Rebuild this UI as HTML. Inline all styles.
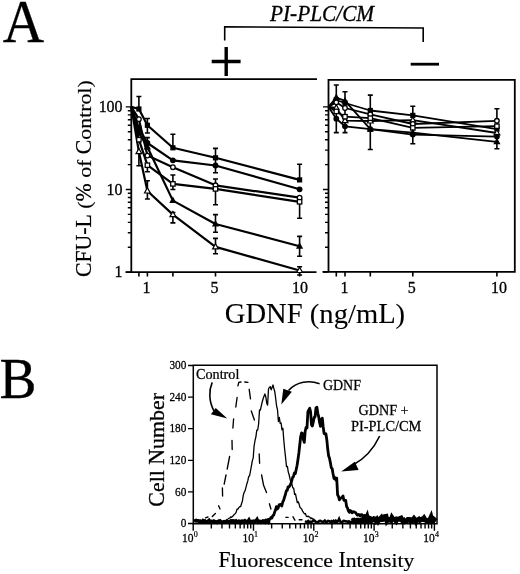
<!DOCTYPE html>
<html><head><meta charset="utf-8"><style>
html,body{margin:0;padding:0;background:#fff;}
body{width:520px;height:574px;overflow:hidden;font-family:"Liberation Serif",serif;}
svg{display:block;will-change:transform;}
</style></head><body>
<svg width="520" height="574" viewBox="0 0 520 574">
<rect width="520" height="574" fill="#fff"/>
<text transform="translate(2.80 41.80) scale(0.97 1.03)" font-family="Liberation Serif, serif" font-size="59" stroke="#000" stroke-width="0.3">A</text>
<text transform="translate(-0.40 397.60) scale(0.955 1.0)" font-family="Liberation Serif, serif" font-size="58" stroke="#000" stroke-width="0.3">B</text>
<text transform="translate(270.00 21.20) scale(1.0 1.04)" font-family="Liberation Serif, serif" font-size="21.3" font-style="italic" stroke="#000" stroke-width="0.3">PI-PLC/CM</text>
<path d="M224.7 40.5 V26.8 L423.2 28 V42" fill="none" stroke="#000" stroke-width="1.6"/>
<path d="M211.7 61.5 H240.6 M226.2 47 V76" stroke="#000" stroke-width="3.4" fill="none"/>
<path d="M410.7 64.2 H439" stroke="#000" stroke-width="2.8" fill="none"/>
<path d="M131.3 272 V79.2 H317" fill="none" stroke="#000" stroke-width="1.8"/>
<path d="M125.6 272.1 H316.5" fill="none" stroke="#000" stroke-width="1.8"/>
<path d="M328.5 79.9 H514.8 V271.9 H322.5 M328.5 79 V272.8" fill="none" stroke="#000" stroke-width="1.8"/>
<path d="M125.80 272.10 H131.3 M127.80 247.23 H131.3 M127.80 232.69 H131.3 M127.80 222.37 H131.3 M127.80 214.37 H131.3 M127.80 207.82 H131.3 M127.80 202.29 H131.3 M127.80 197.50 H131.3 M127.80 193.28 H131.3 M125.80 189.50 H131.3 M127.80 164.63 H131.3 M127.80 150.09 H131.3 M127.80 139.77 H131.3 M127.80 131.77 H131.3 M127.80 125.22 H131.3 M127.80 119.69 H131.3 M127.80 114.90 H131.3 M127.80 110.68 H131.3 M125.80 106.90 H131.3" stroke="#000" stroke-width="1.4" fill="none"/>
<path d="M323.00 272.10 H328.5 M325.00 247.23 H328.5 M325.00 232.69 H328.5 M325.00 222.37 H328.5 M325.00 214.37 H328.5 M325.00 207.82 H328.5 M325.00 202.29 H328.5 M325.00 197.50 H328.5 M325.00 193.28 H328.5 M323.00 189.50 H328.5 M325.00 164.63 H328.5 M325.00 150.09 H328.5 M325.00 139.77 H328.5 M325.00 131.77 H328.5 M325.00 125.22 H328.5 M325.00 119.69 H328.5 M325.00 114.90 H328.5 M325.00 110.68 H328.5 M323.00 106.90 H328.5" stroke="#000" stroke-width="1.4" fill="none"/>
<path d="M138.90 272 V276.5 M147.40 272 V276.5 M172.90 272 V276.5 M215.50 272 V276.5 M299.60 272 V276.5" stroke="#000" stroke-width="1.6" fill="none"/>
<path d="M336.30 272 V276.5 M345.00 272 V276.5 M370.30 272 V276.5 M412.80 272 V276.5 M496.90 272 V276.5" stroke="#000" stroke-width="1.6" fill="none"/>
<text transform="translate(122.60 111.90) scale(1.0 1.06)" font-family="Liberation Serif, serif" font-size="16" text-anchor="end" stroke="#000" stroke-width="0.3">100</text>
<text transform="translate(122.60 194.50) scale(1.0 1.06)" font-family="Liberation Serif, serif" font-size="16" text-anchor="end" stroke="#000" stroke-width="0.3">10</text>
<text transform="translate(122.60 277.10) scale(1.0 1.06)" font-family="Liberation Serif, serif" font-size="16" text-anchor="end" stroke="#000" stroke-width="0.3">1</text>
<text transform="translate(146.50 292.60) scale(1.0 1.04)" font-family="Liberation Serif, serif" font-size="16" text-anchor="middle" stroke="#000" stroke-width="0.3">1</text>
<text transform="translate(214.40 292.60) scale(1.0 1.04)" font-family="Liberation Serif, serif" font-size="16" text-anchor="middle" stroke="#000" stroke-width="0.3">5</text>
<text transform="translate(300.00 292.60) scale(1.0 1.04)" font-family="Liberation Serif, serif" font-size="16" text-anchor="middle" stroke="#000" stroke-width="0.3">10</text>
<text transform="translate(344.60 292.60) scale(1.0 1.04)" font-family="Liberation Serif, serif" font-size="16" text-anchor="middle" stroke="#000" stroke-width="0.3">1</text>
<text transform="translate(411.70 292.60) scale(1.0 1.04)" font-family="Liberation Serif, serif" font-size="16" text-anchor="middle" stroke="#000" stroke-width="0.3">5</text>
<text transform="translate(499.10 292.60) scale(1.0 1.04)" font-family="Liberation Serif, serif" font-size="16" text-anchor="middle" stroke="#000" stroke-width="0.3">10</text>
<text transform="translate(90.60 277.09) rotate(-90) scale(1 1.03)" font-family="Liberation Serif, serif" font-size="21.8" style="font-kerning:none;white-space:pre" stroke="#000" stroke-width="0.2">CFU-L </text>
<text transform="translate(90.60 208.66) rotate(-90) scale(1 0.9)" font-family="Liberation Serif, serif" font-size="21.8" style="font-kerning:none;white-space:pre" stroke="#000" stroke-width="0.2">(</text>
<text transform="translate(90.60 201.40) rotate(-90) scale(1 1.03)" font-family="Liberation Serif, serif" font-size="21.8" style="font-kerning:none;white-space:pre" stroke="#000" stroke-width="0.2">% </text>
<text transform="translate(90.60 177.79) rotate(-90) scale(1 0.9)" font-family="Liberation Serif, serif" font-size="21.8" style="font-kerning:none;white-space:pre" stroke="#000" stroke-width="0.2">of </text>
<text transform="translate(90.60 154.18) rotate(-90) scale(1 1.03)" font-family="Liberation Serif, serif" font-size="21.8" style="font-kerning:none;white-space:pre" stroke="#000" stroke-width="0.2">C</text>
<text transform="translate(90.60 139.64) rotate(-90) scale(1 0.9)" font-family="Liberation Serif, serif" font-size="21.8" style="font-kerning:none;white-space:pre" stroke="#000" stroke-width="0.2">ontrol)</text>
<text transform="translate(224.80 323.00) scale(1 1.04)" font-family="Liberation Serif, serif" font-size="28.6" style="font-kerning:none;white-space:pre" stroke="#000" stroke-width="0.1">GDNF </text>
<text transform="translate(309.82 323.00) scale(1 0.93)" font-family="Liberation Serif, serif" font-size="28.6" style="font-kerning:none;white-space:pre" stroke="#000" stroke-width="0.1">(ng/m</text>
<text transform="translate(378.13 323.00) scale(1 1.04)" font-family="Liberation Serif, serif" font-size="28.6" style="font-kerning:none;white-space:pre" stroke="#000" stroke-width="0.1">L</text>
<text transform="translate(395.60 323.00) scale(1 0.93)" font-family="Liberation Serif, serif" font-size="28.6" style="font-kerning:none;white-space:pre" stroke="#000" stroke-width="0.1">)</text>
<path d="M138.90 96.50 V109.00 M136.40 96.50 H141.40 M147.40 118.50 V133.00 M144.90 118.50 H149.90 M144.90 133.00 H149.90 M172.90 134.30 V147.80 M170.40 134.30 H175.40 M215.50 148.40 V172.80 M213.00 148.40 H218.00 M213.00 172.80 H218.00 M299.60 164.20 V179.90 M297.10 164.20 H302.10 M172.90 175.00 V189.50 M170.40 175.00 H175.40 M170.40 189.50 H175.40 M215.50 179.00 V204.70 M213.00 179.00 H218.00 M213.00 204.70 H218.00 M299.60 201.80 V218.20 M297.10 218.20 H302.10 M215.50 214.60 V232.30 M213.00 214.60 H218.00 M213.00 232.30 H218.00 M299.60 236.40 V256.20 M297.10 236.40 H302.10 M297.10 256.20 H302.10 M138.90 151.70 V165.70 M136.40 165.70 H141.40 M172.90 212.50 V222.90 M170.40 212.50 H175.40 M170.40 222.90 H175.40 M215.50 238.40 V253.70 M213.00 238.40 H218.00 M213.00 253.70 H218.00 M299.60 266.70 V275.00 M297.10 266.70 H302.10 M297.10 275.00 H302.10 M147.40 137.60 V147.00 M144.90 137.60 H149.90 M147.40 180.80 V199.00 M144.90 180.80 H149.90 M144.90 199.00 H149.90 M147.40 165.20 V171.80 M144.90 171.80 H149.90" stroke="#000" stroke-width="1.6" fill="none"/>
<path d="M336.30 85.00 V132.60 M333.80 85.00 H338.80 M333.80 132.60 H338.80 M345.00 91.70 V132.60 M342.50 91.70 H347.50 M342.50 132.60 H347.50 M370.30 95.10 V149.50 M367.80 95.10 H372.80 M367.80 149.50 H372.80 M412.80 106.25 V143.75 M410.30 106.25 H415.30 M410.30 143.75 H415.30 M496.90 108.70 V148.80 M494.40 108.70 H499.40 M494.40 148.80 H499.40" stroke="#000" stroke-width="1.6" fill="none"/>
<polyline points="131.30,106.90 138.90,109.00 147.40,125.30 172.90,147.80 215.50,157.80 299.60,179.90" fill="none" stroke="#000" stroke-width="2.2" stroke-linejoin="round"/>
<polyline points="131.30,106.90 138.90,128.00 147.40,143.00 172.90,160.30 215.50,165.50 299.60,189.30" fill="none" stroke="#000" stroke-width="2.2" stroke-linejoin="round"/>
<polyline points="131.30,106.90 138.90,119.20 147.40,155.60 172.90,167.20 215.50,185.30 299.60,197.70" fill="none" stroke="#000" stroke-width="2.2" stroke-linejoin="round"/>
<polyline points="131.30,106.90 138.90,139.70 147.40,165.20 172.90,183.90 215.50,188.90 299.60,201.80" fill="none" stroke="#000" stroke-width="2.2" stroke-linejoin="round"/>
<polyline points="131.30,106.90 138.90,133.00 147.40,147.00 172.90,200.60 215.50,224.00 299.60,246.20" fill="none" stroke="#000" stroke-width="2.2" stroke-linejoin="round"/>
<polyline points="131.30,106.90 138.90,151.70 147.40,191.00 172.90,214.60 215.50,246.90 299.60,270.50" fill="none" stroke="#000" stroke-width="2.2" stroke-linejoin="round"/>
<rect x="136.30" y="106.40" width="5.2" height="5.2" fill="#000"/>
<rect x="144.80" y="122.70" width="5.2" height="5.2" fill="#000"/>
<rect x="170.30" y="145.20" width="5.2" height="5.2" fill="#000"/>
<rect x="212.90" y="155.20" width="5.2" height="5.2" fill="#000"/>
<rect x="297.00" y="177.30" width="5.2" height="5.2" fill="#000"/>
<circle cx="138.90" cy="128.00" r="2.9" fill="#000"/>
<circle cx="147.40" cy="143.00" r="2.9" fill="#000"/>
<circle cx="172.90" cy="160.30" r="2.9" fill="#000"/>
<circle cx="215.50" cy="165.50" r="2.9" fill="#000"/>
<circle cx="299.60" cy="189.30" r="2.9" fill="#000"/>
<circle cx="138.90" cy="119.20" r="2.3" fill="#fff" stroke="#000" stroke-width="1.3"/>
<circle cx="147.40" cy="155.60" r="2.3" fill="#fff" stroke="#000" stroke-width="1.3"/>
<circle cx="172.90" cy="167.20" r="2.3" fill="#fff" stroke="#000" stroke-width="1.3"/>
<circle cx="215.50" cy="185.30" r="2.3" fill="#fff" stroke="#000" stroke-width="1.3"/>
<circle cx="299.60" cy="197.70" r="2.3" fill="#fff" stroke="#000" stroke-width="1.3"/>
<rect x="136.70" y="137.50" width="4.4" height="4.4" fill="#fff" stroke="#000" stroke-width="1.3"/>
<rect x="145.20" y="163.00" width="4.4" height="4.4" fill="#fff" stroke="#000" stroke-width="1.3"/>
<rect x="170.70" y="181.70" width="4.4" height="4.4" fill="#fff" stroke="#000" stroke-width="1.3"/>
<rect x="213.30" y="186.70" width="4.4" height="4.4" fill="#fff" stroke="#000" stroke-width="1.3"/>
<rect x="297.40" y="199.60" width="4.4" height="4.4" fill="#fff" stroke="#000" stroke-width="1.3"/>
<path d="M138.90 129.00 L142.50 135.50 L135.30 135.50Z" fill="#000"/>
<path d="M147.40 143.00 L151.00 149.50 L143.80 149.50Z" fill="#000"/>
<path d="M172.90 196.60 L176.50 203.10 L169.30 203.10Z" fill="#000"/>
<path d="M215.50 220.00 L219.10 226.50 L211.90 226.50Z" fill="#000"/>
<path d="M299.60 242.20 L303.20 248.70 L296.00 248.70Z" fill="#000"/>
<path d="M138.90 148.50 L141.80 153.70 L136.00 153.70Z" fill="#fff" stroke="#000" stroke-width="1.2"/>
<path d="M147.40 187.80 L150.30 193.00 L144.50 193.00Z" fill="#fff" stroke="#000" stroke-width="1.2"/>
<path d="M172.90 211.40 L175.80 216.60 L170.00 216.60Z" fill="#fff" stroke="#000" stroke-width="1.2"/>
<path d="M215.50 243.70 L218.40 248.90 L212.60 248.90Z" fill="#fff" stroke="#000" stroke-width="1.2"/>
<path d="M299.60 267.30 L302.50 272.50 L296.70 272.50Z" fill="#fff" stroke="#000" stroke-width="1.2"/>
<polyline points="328.50,106.90 336.30,100.00 345.00,103.00 370.30,110.50 412.80,115.40 496.90,129.20" fill="none" stroke="#000" stroke-width="1.8" stroke-linejoin="round"/>
<polyline points="328.50,106.90 336.30,108.00 345.00,120.60 370.30,121.00 412.80,120.20 496.90,133.00" fill="none" stroke="#000" stroke-width="1.8" stroke-linejoin="round"/>
<polyline points="328.50,106.90 336.30,102.30 345.00,108.00 370.30,114.30 412.80,124.00 496.90,120.80" fill="none" stroke="#000" stroke-width="1.8" stroke-linejoin="round"/>
<polyline points="328.50,106.90 336.30,111.40 345.00,116.70 370.30,118.20 412.80,127.90 496.90,126.20" fill="none" stroke="#000" stroke-width="1.8" stroke-linejoin="round"/>
<polyline points="328.50,106.90 336.30,97.50 345.00,100.90 370.30,129.20 412.80,132.70 496.90,141.80" fill="none" stroke="#000" stroke-width="1.8" stroke-linejoin="round"/>
<polyline points="328.50,106.90 336.30,118.70 345.00,126.30 370.30,129.20 412.80,134.60 496.90,136.60" fill="none" stroke="#000" stroke-width="1.8" stroke-linejoin="round"/>
<rect x="333.70" y="97.40" width="5.2" height="5.2" fill="#000"/>
<rect x="342.40" y="100.40" width="5.2" height="5.2" fill="#000"/>
<rect x="367.70" y="107.90" width="5.2" height="5.2" fill="#000"/>
<rect x="410.20" y="112.80" width="5.2" height="5.2" fill="#000"/>
<rect x="494.30" y="126.60" width="5.2" height="5.2" fill="#000"/>
<path d="M336.30 104.80 L339.20 110.00 L333.40 110.00Z" fill="#fff" stroke="#000" stroke-width="1.2"/>
<path d="M345.00 117.40 L347.90 122.60 L342.10 122.60Z" fill="#fff" stroke="#000" stroke-width="1.2"/>
<path d="M370.30 117.80 L373.20 123.00 L367.40 123.00Z" fill="#fff" stroke="#000" stroke-width="1.2"/>
<path d="M412.80 117.00 L415.70 122.20 L409.90 122.20Z" fill="#fff" stroke="#000" stroke-width="1.2"/>
<path d="M496.90 129.80 L499.80 135.00 L494.00 135.00Z" fill="#fff" stroke="#000" stroke-width="1.2"/>
<circle cx="336.30" cy="102.30" r="2.3" fill="#fff" stroke="#000" stroke-width="1.3"/>
<circle cx="345.00" cy="108.00" r="2.3" fill="#fff" stroke="#000" stroke-width="1.3"/>
<circle cx="370.30" cy="114.30" r="2.3" fill="#fff" stroke="#000" stroke-width="1.3"/>
<circle cx="412.80" cy="124.00" r="2.3" fill="#fff" stroke="#000" stroke-width="1.3"/>
<circle cx="496.90" cy="120.80" r="2.3" fill="#fff" stroke="#000" stroke-width="1.3"/>
<rect x="334.10" y="109.20" width="4.4" height="4.4" fill="#fff" stroke="#000" stroke-width="1.3"/>
<rect x="342.80" y="114.50" width="4.4" height="4.4" fill="#fff" stroke="#000" stroke-width="1.3"/>
<rect x="368.10" y="116.00" width="4.4" height="4.4" fill="#fff" stroke="#000" stroke-width="1.3"/>
<rect x="410.60" y="125.70" width="4.4" height="4.4" fill="#fff" stroke="#000" stroke-width="1.3"/>
<rect x="494.70" y="124.00" width="4.4" height="4.4" fill="#fff" stroke="#000" stroke-width="1.3"/>
<path d="M336.30 93.50 L339.90 100.00 L332.70 100.00Z" fill="#000"/>
<path d="M345.00 96.90 L348.60 103.40 L341.40 103.40Z" fill="#000"/>
<path d="M370.30 125.20 L373.90 131.70 L366.70 131.70Z" fill="#000"/>
<path d="M412.80 128.70 L416.40 135.20 L409.20 135.20Z" fill="#000"/>
<path d="M496.90 137.80 L500.50 144.30 L493.30 144.30Z" fill="#000"/>
<circle cx="336.30" cy="118.70" r="2.9" fill="#000"/>
<circle cx="345.00" cy="126.30" r="2.9" fill="#000"/>
<circle cx="370.30" cy="129.20" r="2.9" fill="#000"/>
<circle cx="412.80" cy="134.60" r="2.9" fill="#000"/>
<circle cx="496.90" cy="136.60" r="2.9" fill="#000"/>
<path d="M193.3 523.8 V365.3 H437 V523.8 Z" fill="none" stroke="#000" stroke-width="1.5"/>
<path d="M188 523.50 H193.3 M188 491.90 H193.3 M188 460.30 H193.3 M188 428.70 H193.3 M188 397.10 H193.3 M188 365.50 H193.3" stroke="#000" stroke-width="1.3" fill="none"/>
<text transform="translate(186.30 527.20) scale(1.0 1.15)" font-family="Liberation Serif, serif" font-size="11.3" text-anchor="end" stroke="#000" stroke-width="0.25">0</text>
<text transform="translate(186.30 495.60) scale(1.0 1.15)" font-family="Liberation Serif, serif" font-size="11.3" text-anchor="end" stroke="#000" stroke-width="0.25">60</text>
<text transform="translate(186.30 464.00) scale(1.0 1.15)" font-family="Liberation Serif, serif" font-size="11.3" text-anchor="end" stroke="#000" stroke-width="0.25">120</text>
<text transform="translate(186.30 432.40) scale(1.0 1.15)" font-family="Liberation Serif, serif" font-size="11.3" text-anchor="end" stroke="#000" stroke-width="0.25">180</text>
<text transform="translate(186.30 400.80) scale(1.0 1.15)" font-family="Liberation Serif, serif" font-size="11.3" text-anchor="end" stroke="#000" stroke-width="0.25">240</text>
<text transform="translate(186.30 369.20) scale(1.0 1.15)" font-family="Liberation Serif, serif" font-size="11.3" text-anchor="end" stroke="#000" stroke-width="0.25">300</text>
<path d="M193.20 523.8 V530.8 M211.35 523.8 V528.4 M221.97 523.8 V528.4 M229.50 523.8 V528.4 M235.35 523.8 V528.4 M240.12 523.8 V528.4 M244.16 523.8 V528.4 M247.66 523.8 V528.4 M250.74 523.8 V528.4 M253.50 523.8 V530.8 M271.65 523.8 V528.4 M282.27 523.8 V528.4 M289.80 523.8 V528.4 M295.65 523.8 V528.4 M300.42 523.8 V528.4 M304.46 523.8 V528.4 M307.96 523.8 V528.4 M311.04 523.8 V528.4 M313.80 523.8 V530.8 M331.95 523.8 V528.4 M342.57 523.8 V528.4 M350.10 523.8 V528.4 M355.95 523.8 V528.4 M360.72 523.8 V528.4 M364.76 523.8 V528.4 M368.26 523.8 V528.4 M371.34 523.8 V528.4 M374.10 523.8 V530.8 M392.25 523.8 V528.4 M402.87 523.8 V528.4 M410.40 523.8 V528.4 M416.25 523.8 V528.4 M421.02 523.8 V528.4 M425.06 523.8 V528.4 M428.56 523.8 V528.4 M431.64 523.8 V528.4 M434.40 523.8 V530.8" stroke="#000" stroke-width="1.4" fill="none"/>
<text transform="translate(193.60 541.50) scale(1.0 1.1)" font-family="Liberation Serif, serif" font-size="11.5" text-anchor="end" stroke="#000" stroke-width="0.25">10</text>
<text transform="translate(193.80 537.00) scale(1.0 1.1)" font-family="Liberation Serif, serif" font-size="8" stroke="#000" stroke-width="0.2">0</text>
<text transform="translate(253.90 541.50) scale(1.0 1.1)" font-family="Liberation Serif, serif" font-size="11.5" text-anchor="end" stroke="#000" stroke-width="0.25">10</text>
<text transform="translate(254.10 537.00) scale(1.0 1.1)" font-family="Liberation Serif, serif" font-size="8" stroke="#000" stroke-width="0.2">1</text>
<text transform="translate(314.20 541.50) scale(1.0 1.1)" font-family="Liberation Serif, serif" font-size="11.5" text-anchor="end" stroke="#000" stroke-width="0.25">10</text>
<text transform="translate(314.40 537.00) scale(1.0 1.1)" font-family="Liberation Serif, serif" font-size="8" stroke="#000" stroke-width="0.2">2</text>
<text transform="translate(374.50 541.50) scale(1.0 1.1)" font-family="Liberation Serif, serif" font-size="11.5" text-anchor="end" stroke="#000" stroke-width="0.25">10</text>
<text transform="translate(374.70 537.00) scale(1.0 1.1)" font-family="Liberation Serif, serif" font-size="8" stroke="#000" stroke-width="0.2">3</text>
<text transform="translate(434.80 541.50) scale(1.0 1.1)" font-family="Liberation Serif, serif" font-size="11.5" text-anchor="end" stroke="#000" stroke-width="0.25">10</text>
<text transform="translate(435.00 537.00) scale(1.0 1.1)" font-family="Liberation Serif, serif" font-size="8" stroke="#000" stroke-width="0.2">4</text>
<text transform="translate(163.60 506.67) rotate(-90) scale(1 1.05)" font-family="Liberation Serif, serif" font-size="21.9" style="font-kerning:none;white-space:pre" stroke="#000" stroke-width="0.3">C</text>
<text transform="translate(163.60 492.06) rotate(-90) scale(1 0.94)" font-family="Liberation Serif, serif" font-size="21.9" style="font-kerning:none;white-space:pre" stroke="#000" stroke-width="0.3">ell </text>
<text transform="translate(163.60 464.70) rotate(-90) scale(1 1.05)" font-family="Liberation Serif, serif" font-size="21.9" style="font-kerning:none;white-space:pre" stroke="#000" stroke-width="0.3">N</text>
<text transform="translate(163.60 448.88) rotate(-90) scale(1 0.94)" font-family="Liberation Serif, serif" font-size="21.9" style="font-kerning:none;white-space:pre" stroke="#000" stroke-width="0.3">umber</text>
<text transform="translate(218.50 567.10) scale(1 1.04)" font-family="Liberation Serif, serif" font-size="21.7" style="font-kerning:none;white-space:pre" stroke="#000" stroke-width="0.2">F</text>
<text transform="translate(230.57 567.10) scale(1 0.9)" font-family="Liberation Serif, serif" font-size="21.7" style="font-kerning:none;white-space:pre" stroke="#000" stroke-width="0.2">luorescence </text>
<text transform="translate(338.40 567.10) scale(1 1.04)" font-family="Liberation Serif, serif" font-size="21.7" style="font-kerning:none;white-space:pre" stroke="#000" stroke-width="0.2">I</text>
<text transform="translate(345.63 567.10) scale(1 0.9)" font-family="Liberation Serif, serif" font-size="21.7" style="font-kerning:none;white-space:pre" stroke="#000" stroke-width="0.2">ntensity</text>
<text transform="translate(196.00 378.60) scale(1 1.06)" font-family="Liberation Serif, serif" font-size="14.2" style="font-kerning:none;white-space:pre" stroke="#000" stroke-width="0.25">C</text>
<text transform="translate(205.47 378.60) scale(1 0.98)" font-family="Liberation Serif, serif" font-size="14.2" style="font-kerning:none;white-space:pre" stroke="#000" stroke-width="0.25">ontrol</text>
<text transform="translate(322.90 389.50) scale(1.0 1.08)" font-family="Liberation Serif, serif" font-size="14.0" stroke="#000" stroke-width="0.25">GDNF</text>
<text transform="translate(358.50 415.20) scale(1.0 1.06)" font-family="Liberation Serif, serif" font-size="14.15" stroke="#000" stroke-width="0.25">GDNF +</text>
<text transform="translate(351.00 430.70) scale(1.0 1.06)" font-family="Liberation Serif, serif" font-size="14.4" stroke="#000" stroke-width="0.25">PI-PLC/CM</text>
<path d="M212.2 382.4 C209 390 208.5 401 214 411" fill="none" stroke="#000" stroke-width="1.6"/>
<path d="M210.9 414.2 L215.7 408.1 L227.3 418.6 Z" fill="#000"/>
<path d="M319.6 383.7 C309 380 297 381.5 288.5 390.5" fill="none" stroke="#000" stroke-width="1.6"/>
<path d="M283.3 388.8 L291.9 391.7 L281.3 404.4 Z" fill="#000"/>
<path d="M379.7 436 C374 448 366 458 353 465" fill="none" stroke="#000" stroke-width="1.6"/>
<path d="M354.8 461.8 L358.6 470 L341.2 471.5 Z" fill="#000"/>
<polyline points="194.0,521.3 195.0,520.8 196.0,520.4 197.0,520.9 198.0,520.9 199.0,521.5 200.0,521.0 201.0,521.8 202.0,521.7 203.0,520.6 204.0,521.3 205.0,521.0 206.0,522.1 207.0,521.7 208.0,521.4 209.0,520.5 210.0,521.9 211.0,521.3 212.0,521.5 213.0,522.1 214.0,521.2 215.0,521.6 216.0,522.0 217.0,522.4 218.0,521.5 219.0,521.0 220.0,520.9 221.0,522.0 222.0,522.2 223.0,521.9 224.0,521.7 225.0,522.1 226.0,521.6 227.0,520.9 228.0,521.8 229.0,522.1 230.0,521.4 231.0,520.8 232.0,521.1 233.0,520.9 234.0,521.0 235.0,521.4 236.0,520.9 237.0,521.7 238.0,522.1 239.0,521.2 240.0,521.4 241.0,522.3 242.0,521.1 243.0,521.2 244.0,521.7 245.0,520.8 246.0,521.4 247.0,522.3 248.0,521.6 249.0,520.1 250.0,522.0 251.0,522.1 252.0,521.4 253.0,521.7 254.0,521.1 255.0,521.3 256.0,521.0 257.0,519.6 258.0,521.8 259.0,521.2 260.0,521.4 261.0,522.2 262.0,521.5 263.0,520.9 264.0,521.3 265.0,522.1 266.0,520.8 267.0,521.6 268.0,520.6 269.0,522.4 270.0,521.9" fill="none" stroke="#000" stroke-width="3.6"/>
<polyline points="305.0,521.2 306.1,521.8 307.2,521.8 308.3,521.0 309.4,522.2 310.5,521.9 311.6,521.8 312.7,521.4 313.8,520.1 314.9,521.0 316.0,522.1 317.1,522.1 318.2,522.1 319.3,521.0 320.4,520.9 321.5,521.6 322.6,521.9 323.7,521.6 324.8,520.7 325.9,522.1 327.0,521.8 328.1,520.9 329.2,521.1 330.3,522.2 331.4,521.2 332.5,521.8 333.6,520.8 334.7,522.0 335.8,520.8 336.9,522.2 338.0,521.2 339.1,518.9 340.2,521.6 341.3,522.1 342.4,522.0 343.5,520.9 344.6,521.1 345.7,521.5 346.8,521.3 347.9,522.1 349.0,521.3 350.1,522.0 351.2,522.1 352.3,521.5 353.4,520.6 354.5,519.3 355.6,520.9 356.7,521.8 357.8,521.1 358.9,521.5 360.0,520.8 361.1,521.0" fill="none" stroke="#000" stroke-width="2.6"/>
<polyline points="352.0,521.1 353.0,520.5 354.0,521.4 355.0,520.7 356.0,520.4 357.0,520.3 358.0,520.3 359.0,520.9 360.0,521.5 361.0,520.5 362.0,520.7 363.0,519.3 364.0,519.4 365.0,521.1 366.0,519.6 367.0,517.3 368.0,521.5 369.0,521.5 370.0,520.4 371.0,519.5 372.0,520.4 373.0,519.7 374.0,518.7 375.0,518.9 376.0,520.7 377.0,519.4 378.0,521.1 379.0,519.5 380.0,519.3 381.0,518.2 382.0,521.4 383.0,516.1 384.0,520.6 385.0,516.7 386.0,516.5 387.0,520.7 388.0,519.4 389.0,519.4 390.0,520.3 391.0,520.5 392.0,517.7 393.0,519.1 394.0,519.3 395.0,519.9 396.0,521.0 397.0,519.0 398.0,519.2 399.0,519.2 400.0,518.6 401.0,518.2 402.0,520.2 403.0,521.2 404.0,520.4 405.0,521.6 406.0,521.2 407.0,520.7 408.0,519.5 409.0,519.4 410.0,519.5 411.0,521.2 412.0,520.8 413.0,519.8 414.0,518.5 415.0,519.8 416.0,521.5 417.0,519.8 418.0,519.9 419.0,519.2 420.0,520.3 421.0,519.7 422.0,519.2 423.0,519.4 424.0,518.1 425.0,519.8 426.0,520.5 427.0,520.8 428.0,521.3 429.0,520.0 430.0,519.6 431.0,517.4 432.0,521.3 433.0,521.0 434.0,519.5 435.0,520.4 436.0,521.1" fill="none" stroke="#000" stroke-width="5.0"/>
<path d="M205.5,517.8 L208,517 M212.3,516.5 L215.4,513.5 M218.6,505.8 L220,509 M222.4,488 L222.6,496 M224.2,484 L226,475 M227.2,469 L229.6,456.5 M232,440.5 L232.2,449.5 M233.6,419 L232.9,428 M235.8,407 L237.1,397.5 M237.9,385.8 L238.8,382.4 L241,382 M244.8,382 L247.9,382.4 M249.2,389.3 L250.5,398.8 M251.3,411 L254.4,420 M259.2,453.9 L259.6,463.3 M261.6,475 L263.5,485 L266.5,492.5 M269.4,503.8 L270.9,509 M285.8,517.3 L288.2,517.3 M293,516.8 L294.9,520.2 M299.2,519.7 L302,519.7" fill="none" stroke="#000" stroke-width="1.35" stroke-linecap="round"/>
<polyline points="228.0,518.6 228.9,518.3 229.8,518.0 230.7,516.9 231.6,517.3 232.5,516.5 233.4,515.5 234.3,514.3 235.2,513.7 236.1,512.4 237.0,509.2 237.9,509.1 238.8,507.6 239.7,506.6 240.6,506.7 241.5,503.8 242.4,501.1 243.3,495.1 244.2,492.2 245.1,490.6 246.0,487.1 246.9,483.7 247.8,480.9 248.7,476.5 249.6,475.7 250.5,471.0 251.4,466.2 252.3,460.9 253.2,457.9 254.1,446.0 255.0,440.7 255.9,436.8 256.8,430.2 257.7,430.0 258.6,424.2 259.5,409.9 260.4,410.0 261.3,405.9 262.2,402.0 263.1,398.8 264.0,396.3 264.9,394.0 265.8,396.7 266.7,402.9 267.6,405.2 268.5,389.0 269.4,387.3 270.3,386.7 271.2,389.8 272.1,387.4 273.0,385.0 273.9,388.6 274.8,391.8 275.7,398.5 276.6,406.0 277.5,409.8 278.4,421.5 279.3,417.3 280.2,423.3 281.1,423.0 282.0,429.8 282.9,428.2 283.8,440.2 284.7,449.8 285.6,457.7 286.5,466.6 287.4,466.3 288.3,472.1 289.2,475.0 290.1,479.2 291.0,482.3 291.9,484.2 292.8,487.9 293.7,488.2 294.6,494.3 295.5,493.9 296.4,498.3 297.3,502.7 298.2,501.8 299.1,504.1 300.0,507.4 300.9,508.2 301.8,509.3 302.7,511.4 303.6,512.7 304.5,513.8 305.4,513.5 306.3,516.1 307.2,516.7 308.1,516.1 309.0,516.9 309.9,517.2 310.8,518.8 311.7,517.9 312.6,519.2 313.5,519.0" fill="none" stroke="#000" stroke-width="1.3" stroke-linejoin="round"/>
<polyline points="262.0,520.8 262.9,521.1 263.8,521.3 264.7,520.7 265.6,520.3 266.5,520.6 267.4,519.8 268.3,519.6 269.2,519.8 270.1,519.2 271.0,517.5 271.9,518.0 272.8,515.7 273.7,515.1 274.6,512.3 275.5,510.0 276.4,506.7 277.3,509.0 278.2,507.9 279.1,504.9 280.0,504.5 280.9,504.3 281.8,506.0 282.7,502.2 283.6,500.4 284.5,497.3 285.4,494.5 286.3,490.8 287.2,490.5 288.1,486.8 289.0,486.9 289.9,485.5 290.8,483.8 291.7,480.8 292.6,477.5 293.5,476.5 294.4,472.9 295.3,473.6 296.2,469.5 297.1,465.2 298.0,459.3 298.9,452.7 299.8,444.5 300.7,436.5 301.6,432.9 302.5,433.4 303.4,439.5 304.3,442.3 305.2,431.2 306.1,427.3 307.0,427.9 307.9,411.8 308.8,410.0 309.7,408.3 310.6,411.9 311.5,424.9 312.4,426.0 313.3,421.9 314.2,417.5 315.1,416.5 316.0,407.7 316.9,407.3 317.8,413.3 318.7,416.7 319.6,422.5 320.5,426.4 321.4,419.4 322.3,418.2 323.2,427.0 324.1,433.6 325.0,434.1 325.9,433.7 326.8,439.7 327.7,448.8 328.6,455.8 329.5,458.3 330.4,462.7 331.3,467.7 332.2,468.7 333.1,474.1 334.0,478.6 334.9,477.6 335.8,480.0 336.7,478.1 337.6,494.9 338.5,496.3 339.4,499.9 340.3,498.1 341.2,498.0 342.1,497.3 343.0,496.0 343.9,500.3 344.8,500.4 345.7,500.5 346.6,506.5 347.5,508.0 348.4,510.9 349.3,512.3 350.2,510.5 351.1,511.2 352.0,512.8 352.9,511.7 353.8,511.8 354.7,512.1 355.6,512.6 356.5,514.0 357.4,515.2 358.3,514.5 359.2,514.6 360.1,516.1 361.0,514.6 361.9,514.7 362.8,515.7 363.7,516.0 364.6,515.4 365.5,515.6 366.4,516.8 367.3,517.0 368.2,516.4 369.1,517.2 370.0,517.2 370.9,518.0 371.8,517.9" fill="none" stroke="#000" stroke-width="2.8" stroke-linejoin="round"/>
</svg>
</body></html>
